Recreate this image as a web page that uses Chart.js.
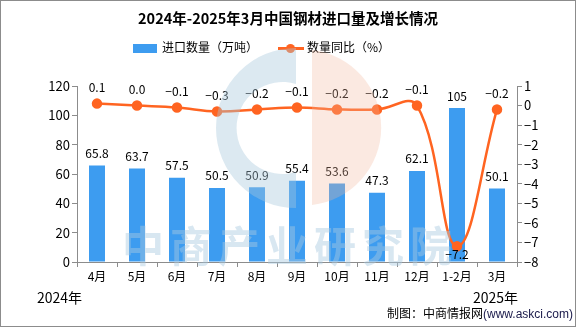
<!DOCTYPE html>
<html><head><meta charset="utf-8">
<script src="https://cdn.jsdelivr.net/npm/chart.js@4/dist/chart.umd.min.js"></script>
<style>
html,body{margin:0;padding:0;background:#fff;}
#wrap{position:relative;width:576px;height:327px;overflow:hidden;font-family:"Noto Sans CJK SC","Noto Sans",sans-serif;}
#frame{position:absolute;left:0;top:0;width:574px;height:325px;border:1px solid #8c8c8c;pointer-events:none;z-index:5;}
canvas{position:absolute;left:0;top:0;}
.t{position:absolute;white-space:nowrap;color:#000;}
#title{left:0;width:576px;top:8px;text-align:center;font-size:14.5px;font-weight:bold;line-height:20px;}
#legend{position:absolute;top:38px;left:0;width:576px;font-size:12px;line-height:18px;}
#wm{position:absolute;left:0;top:0;z-index:3;pointer-events:none;}
</style></head>
<body>
<div id="wrap">
<svg id="wm" width="576" height="327">
  <path d="M 312 50 A 78 78 0 0 1 312 205 Z" fill="#f2b79c" opacity="0.3"/>
  <path d="M 296 48 A 80 80 0 1 0 296 208 L 296 172 A 46 46 0 1 1 296 84 Z" fill="#a7c8dc" opacity="0.4"/>
  <text x="290" y="262" text-anchor="middle" font-size="42" font-weight="bold" fill="#a9c9e0" opacity="0.45" font-family="Noto Sans CJK SC" letter-spacing="6">中商产业研究院</text>
</svg>
<canvas id="c" width="576" height="327"></canvas>
<div class="t" id="title">2024年-2025年3月中国钢材进口量及增长情况</div>
<div id="legend">
  <div style="position:absolute;left:133px;top:6px;width:24px;height:9px;background:#3d9cf0;"></div>
  <div class="t" style="left:162px;top:0px;">进口数量（万吨）</div>
  <div style="position:absolute;left:278px;top:9px;width:26px;height:3px;background:#ff6421;"></div>
  <div style="position:absolute;left:286px;top:6px;width:9px;height:9px;border-radius:50%;background:#ff6421;"></div>
  <div class="t" style="left:307px;top:0px;">数量同比（%）</div>
</div>
<div class="t" style="left:37px;top:287px;font-size:14px;">2024年</div>
<div class="t" style="left:473px;top:287px;font-size:14px;">2025年</div>
<div class="t" style="left:387px;top:304px;font-size:12px;">制图：中商情报网<span style="font-family:'Liberation Sans',sans-serif;color:#1a1a4a;">(www.askci.com)</span></div>
<div id="frame"></div>
</div>
<script>
const categories = ["4月","5月","6月","7月","8月","9月","10月","11月","12月","1-2月","3月"];
const importVolume = [65.8,63.7,57.5,50.5,50.9,55.4,53.6,47.3,62.1,105,50.1];
const yoyGrowth = [0.1,0.0,-0.1,-0.3,-0.2,-0.1,-0.2,-0.2,-0.1,-7.2,-0.2];
const yoyPlotted = [0.1,0.0,-0.1,-0.3,-0.2,-0.1,-0.2,-0.2,0.0,-7.2,-0.2];
const leftTicks = {min:0,max:120,step:20};
const rightTicks = {min:-8,max:1,step:1};

const fmtMinus = s => String(s).replace('-', '\u2212');

const labelPlugin = {
  id:'labels',
  afterDatasetsDraw(chart){
    const ctx = chart.ctx;
    ctx.save();
    ctx.font = '12px "Noto Sans CJK SC", sans-serif';
    ctx.fillStyle = '#000';
    ctx.textAlign = 'center';
    const barMeta = chart.getDatasetMeta(0);
    barMeta.data.forEach((el,i)=>{
      ctx.textBaseline = 'bottom';
      ctx.fillText(String(importVolume[i]), el.x, el.y - 6);
    });
    const lineMeta = chart.getDatasetMeta(1);
    lineMeta.data.forEach((el,i)=>{
      const v = yoyGrowth[i];
      const txt = fmtMinus(v.toFixed(1));
      if (v < -5){
        ctx.textBaseline = 'top';
        ctx.fillText(txt, el.x, el.y + 2);
      } else {
        ctx.textBaseline = 'bottom';
        ctx.fillText(txt, el.x, el.y - 10);
      }
    });
    ctx.restore();
  }
};

new Chart(document.getElementById('c'), {
  data:{
    labels:categories,
    datasets:[
      {type:'bar',label:'进口数量（万吨）',data:importVolume,backgroundColor:'#3d9cf0',yAxisID:'y',
       categoryPercentage:1,barPercentage:0.4,order:2},
      {type:'line',label:'数量同比（%）',data:yoyPlotted,borderColor:'#ff6421',backgroundColor:'#ff6421',
       borderWidth:2.5,pointRadius:4,pointHoverRadius:4,tension:0.4,yAxisID:'y1',order:1}
    ]
  },
  options:{
    responsive:false,animation:false,
    layout:{padding:{top:86,left:0,right:0,bottom:0}},
    plugins:{legend:{display:false},title:{display:false},tooltip:{enabled:false}},
    scales:{
      x:{offset:true,
         grid:{display:true,drawOnChartArea:false,drawTicks:true,tickLength:5,color:'#8c8c8c',offset:true},
         border:{color:'#8c8c8c'},
         ticks:{color:'#000',font:{size:12,family:'"Noto Sans CJK SC", sans-serif'},padding:2,maxRotation:0,autoSkip:false},
         afterFit(s){s.height=65;}},
      y:{position:'left',min:leftTicks.min,max:leftTicks.max,
         ticks:{stepSize:leftTicks.step,color:'#000',font:{size:13,family:'"Noto Sans CJK SC", sans-serif'},padding:2},
         grid:{drawOnChartArea:false,tickLength:5,color:'#8c8c8c'},
         border:{color:'#8c8c8c'},
         afterFit(s){s.width=77;}},
      y1:{position:'right',min:rightTicks.min,max:rightTicks.max,
         ticks:{stepSize:rightTicks.step,color:'#000',font:{size:13,family:'"Noto Sans CJK SC", sans-serif'},padding:2,
                callback:v=>fmtMinus(v)},
         grid:{drawOnChartArea:false,tickLength:5,color:'#8c8c8c'},
         border:{color:'#8c8c8c'},
         afterFit(s){s.width=59;}}
    }
  },
  plugins:[labelPlugin]
});
</script>
</body></html>
